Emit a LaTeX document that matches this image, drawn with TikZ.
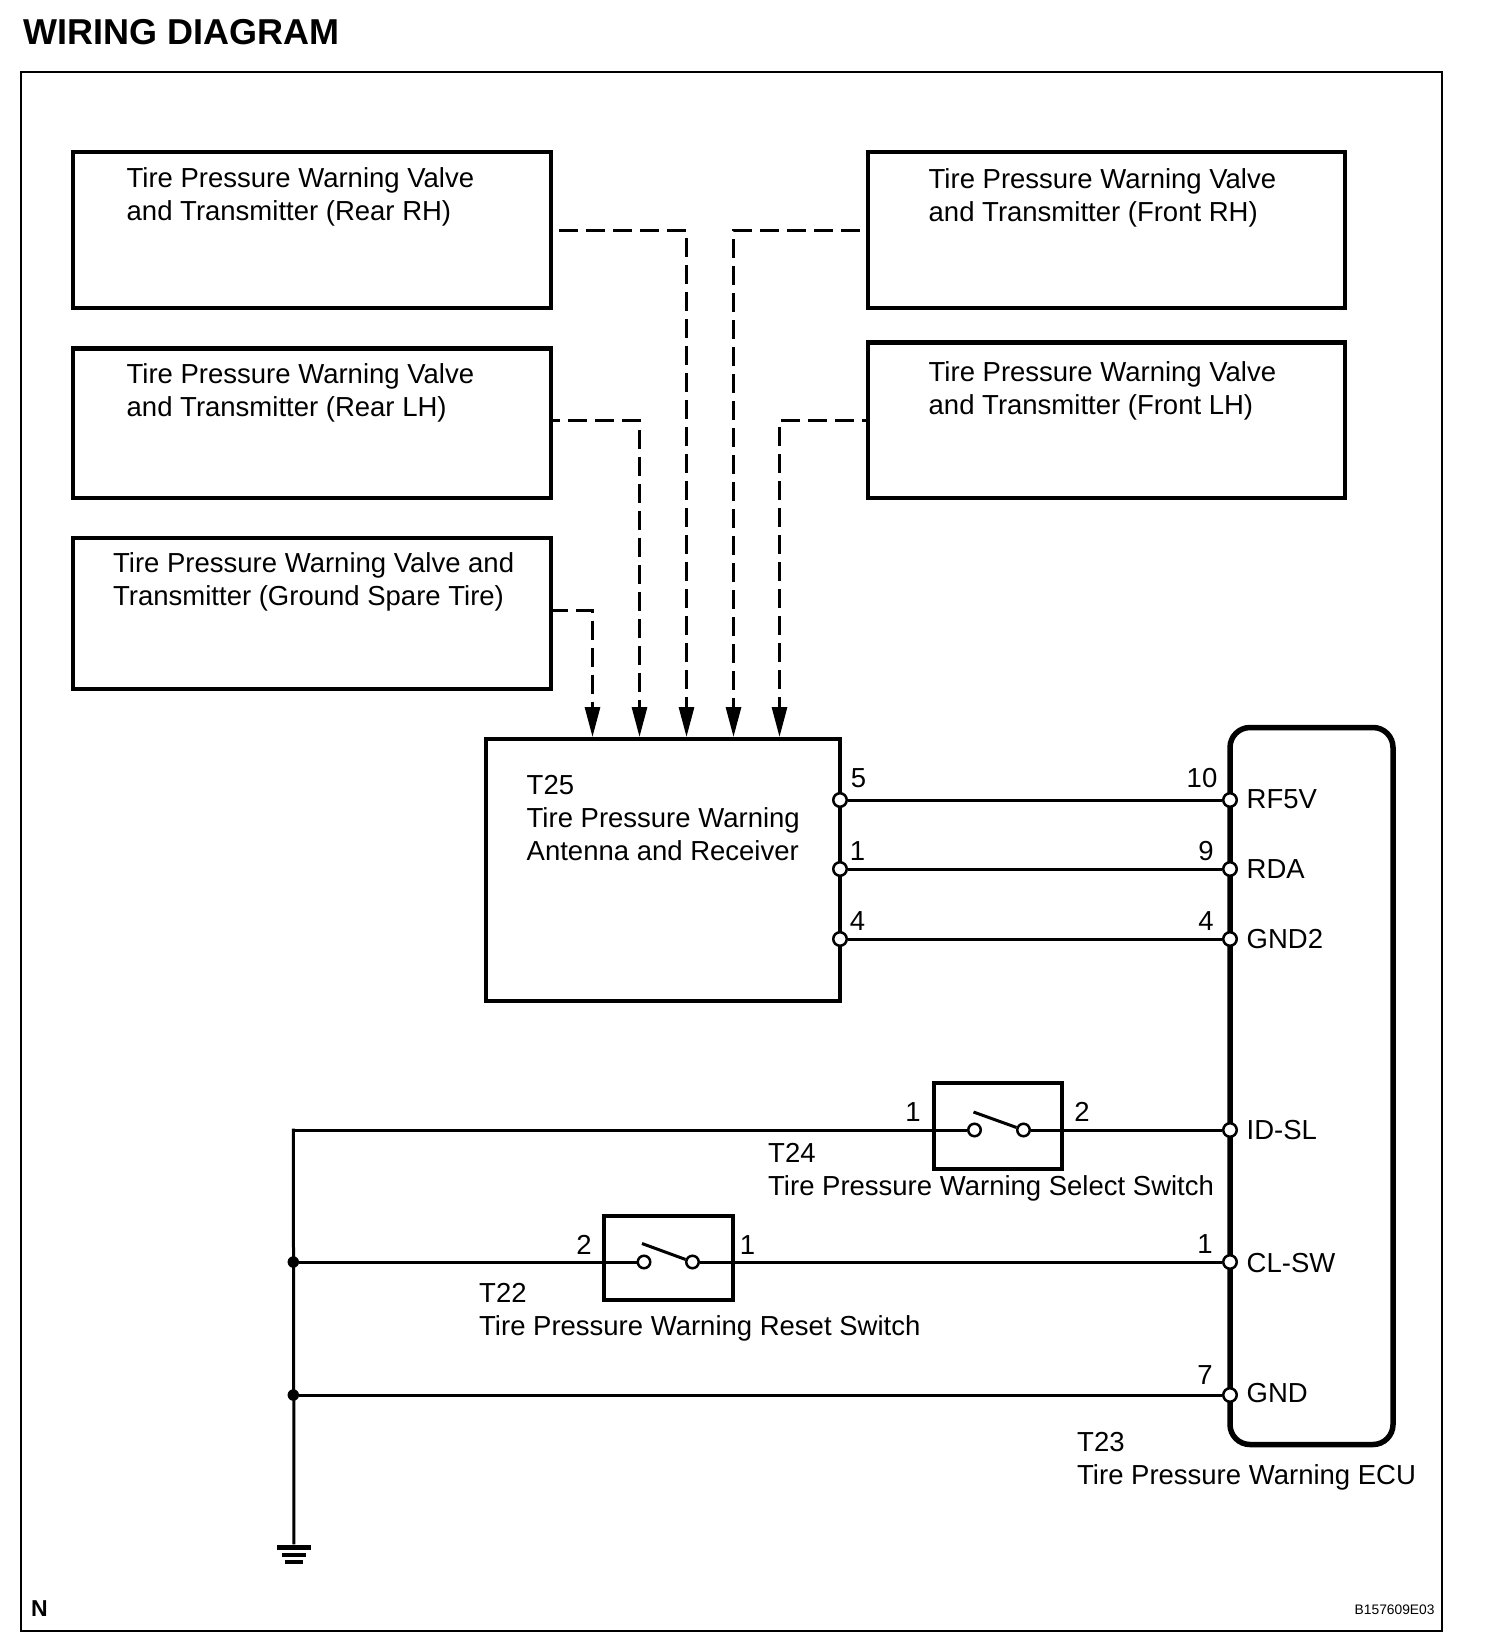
\documentclass[tikz,border=0pt]{standalone}
\usepackage{fontspec}
\setmainfont{Liberation Sans}
\usetikzlibrary{arrows.meta}

\tikzset{
    framebox/.style={shape=rectangle,draw,line width=2.2pt,inner sep=0pt},
    unitbox/.style={shape=rectangle,draw,line width=4.2pt,inner sep=0pt},
    switchbox/.style={shape=rectangle,draw,line width=4pt,inner sep=0pt},
    ecubox/.style={shape=rectangle,draw,line width=5.5pt,rounded corners=20pt,inner sep=0pt},
    wire/.style={line width=3pt},
    radiowire/.style={line width=3pt,dash pattern=on 19pt off 8pt,-{Triangle[length=30pt,width=15pt]}},
    port/.style={shape=circle,draw,fill=white,line width=2.5pt,minimum size=13.5pt,inner sep=0pt},
    joint/.style={shape=circle,fill=black,minimum size=11.5pt,inner sep=0pt},
    gndbar/.style={shape=rectangle,fill=black,inner sep=0pt},
    txt/.style={anchor=north west,inner sep=0pt,align=left,font=\fontsize{27.5}{33}\selectfont},
    pin/.style={inner sep=0pt,font=\fontsize{27.5}{33}\selectfont},
    plabel/.style={anchor=west,inner sep=0pt,font=\fontsize{27.5}{33}\selectfont}
}

\begin{document}
\begin{tikzpicture}[x=1pt,y=-1pt]
    \useasboundingbox (0,0) rectangle (1504,1642);

    \node[anchor=base west,inner sep=0pt,font=\fontsize{36}{40}\selectfont\bfseries] (title) at (23,44.5) {WIRING DIAGRAM};
    \node[framebox,minimum width=1421pt,minimum height=1559pt] (frame) at (731.5,851.5) {};

    % transmitters
    \node[unitbox,minimum width=477.5pt,minimum height=156pt] (rearrh) at (312,230) {};
    \node[unitbox,minimum width=477.5pt,minimum height=149.5pt] (rearlh) at (312,423.2) {};
    \node[unitbox,minimum width=477.5pt,minimum height=151pt] (spare) at (312,613.3) {};
    \node[unitbox,minimum width=476.5pt,minimum height=156pt] (frontrh) at (1106.5,230) {};
    \node[unitbox,minimum width=476.5pt,minimum height=155.5pt] (frontlh) at (1106.5,420.2) {};

    \node[txt] (rearrhtxt) at (126.5,167) {Tire Pressure Warning Valve\\and Transmitter (Rear RH)};
    \node[txt] (rearlhtxt) at (126.5,363) {Tire Pressure Warning Valve\\and Transmitter (Rear LH)};
    \node[txt] (sparetxt) at (113,552.8) {Tire Pressure Warning Valve and\\Transmitter (Ground Spare Tire)};
    \node[txt] (frontrhtxt) at (928.5,168) {Tire Pressure Warning Valve\\and Transmitter (Front RH)};
    \node[txt] (frontlhtxt) at (928.5,361) {Tire Pressure Warning Valve\\and Transmitter (Front LH)};

    % receiver and ecu
    \node[unitbox,minimum width=354pt,minimum height=262pt] (receiver) at (663,870) {};
    \node[txt] (receivertxt) at (526.5,775) {T25\\Tire Pressure Warning\\Antenna and Receiver};
    \node[ecubox,minimum width=163pt,minimum height=717pt] (ecu) at (1311.5,1086) {};
    \node[txt] (ecutxt) at (1077,1432.5) {T23\\Tire Pressure Warning ECU};

    \coordinate (inA) at (592.5,737);
    \coordinate (inB) at (639.5,737);
    \coordinate (inC) at (686.5,737);
    \coordinate (inD) at (733.5,737);
    \coordinate (inE) at (779.5,737);

    \draw[radiowire,shorten <=6.5pt] (rearrh.east) -| (inC);
    \draw[radiowire,dash phase=12pt] ([yshift=2.9pt]rearlh.east) -| (inB);
    \draw[radiowire,dash phase=4pt] ([yshift=3pt]spare.east) -| (inA);
    \draw[radiowire,shorten <=6.4pt] (frontrh.west) -| (inD);
    \draw[radiowire,dash phase=14.5pt] (frontlh.west) -| (inE);

    % ports
    \node[port] (recA) at (840,800) {};
    \node[port] (recB) at (840,869) {};
    \node[port] (recC) at (840,939) {};
    \node[port] (rfv) at (1230,800) {};
    \node[port] (rda) at (1230,869) {};
    \node[port] (gndtwo) at (1230,939) {};
    \node[port] (idsl) at (1230,1130) {};
    \node[port] (clsw) at (1230,1262) {};
    \node[port] (gnd) at (1230,1395) {};

    \path [wire] (recA) edge (rfv);
    \path [wire] (recB) edge (rda);
    \path [wire] (recC) edge (gndtwo);

    % switches
    \node[switchbox,minimum width=128pt,minimum height=86pt] (selsw) at (998,1126) {};
    \node[port,minimum size=12.5pt] (selA) at (974.5,1130) {};
    \node[port,minimum size=12.5pt] (selB) at (1023.5,1130) {};
    \coordinate (selblade) at (973.5,1112);
    \node[switchbox,minimum width=129pt,minimum height=84pt] (resw) at (668.5,1258) {};
    \node[port,minimum size=12.5pt] (resA) at (644,1262) {};
    \node[port,minimum size=12.5pt] (resB) at (692.5,1262) {};
    \coordinate (reblade) at (642,1243.5);

    % ground line
    \coordinate (corner) at (293.3,1130);
    \node[joint] (jointA) at (293.3,1262) {};
    \node[joint] (jointB) at (293.3,1395) {};
    \node[gndbar,minimum width=34pt,minimum height=5pt] (gndA) at (294,1547) {};
    \node[gndbar,minimum width=24pt,minimum height=3.5pt] (gndB) at (294,1555) {};
    \node[gndbar,minimum width=18pt,minimum height=3.5pt] (gndC) at (294,1562) {};

    \path [wire,shorten <=-1.5pt] (corner) edge (selA);
    \path [wire] (selB) edge (idsl);
    \path [wire] (selblade) edge (selB);
    \path [wire] (jointA) edge (resA);
    \path [wire] (resB) edge (clsw);
    \path [wire] (reblade) edge (resB);
    \path [wire] (jointB) edge (gnd);
    \path [wire,shorten <=-1.5pt] (corner) edge (gndA);

    % pin numbers
    \node[pin] (pinA) at (858.5,778) {5};
    \node[pin] (pinB) at (857.5,851) {1};
    \node[pin] (pinC) at (857.5,921) {4};
    \node[pin] (pinD) at (1202,778) {10};
    \node[pin] (pinE) at (1206,851) {9};
    \node[pin] (pinF) at (1206,921) {4};
    \node[pin] (pinG) at (913,1112) {1};
    \node[pin] (pinH) at (1082,1112) {2};
    \node[pin] (pinI) at (584,1245) {2};
    \node[pin] (pinJ) at (747.5,1245) {1};
    \node[pin] (pinK) at (1205,1244) {1};
    \node[pin] (pinL) at (1205,1375) {7};

    \node[plabel] (rfvtxt) at (1246.5,799) {RF5V};
    \node[plabel] (rdatxt) at (1246.5,869) {RDA};
    \node[plabel] (gndtwotxt) at (1246.5,939) {GND2};
    \node[plabel] (idsltxt) at (1246.5,1130) {ID-SL};
    \node[plabel] (clswtxt) at (1246.5,1263) {CL-SW};
    \node[plabel] (gndtxt) at (1246.5,1393.5) {GND};

    \node[txt] (selswtxt) at (768,1143) {T24\\Tire Pressure Warning Select Switch};
    \node[txt] (reswtxt) at (479,1283.5) {T22\\Tire Pressure Warning Reset Switch};

    \node[anchor=base west,inner sep=0pt,font=\fontsize{23}{26}\selectfont\bfseries] (north) at (31,1616) {N};
    \node[anchor=base west,inner sep=0pt,font=\fontsize{13.8}{16}\selectfont] (code) at (1354.5,1614) {B157609E03};
\end{tikzpicture}
\end{document}
